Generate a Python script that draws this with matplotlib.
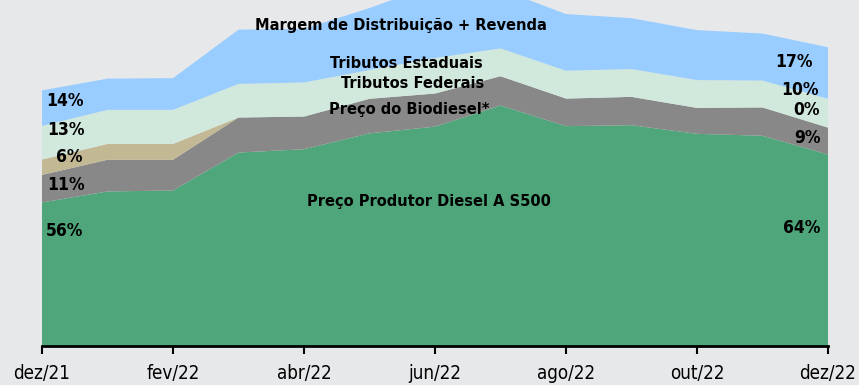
import matplotlib
matplotlib.use('agg')
import matplotlib.pyplot as plt
from matplotlib import font_manager
import numpy as np

# composição do preço do diesel S500 (R$/litro), dez/21 a dez/22
meses = ['dez/21', 'jan/22', 'fev/22', 'mar/22', 'abr/22', 'mai/22', 'jun/22',
         'jul/22', 'ago/22', 'set/22', 'out/22', 'nov/22', 'dez/22']
produtor = [2.99, 3.22, 3.24, 4.03, 4.10, 4.43, 4.57, 5.01, 4.58, 4.60, 4.42, 4.38, 3.99]
biodiesel = [0.575, 0.66, 0.64, 0.73, 0.68, 0.72, 0.69, 0.61, 0.575, 0.59, 0.54, 0.59, 0.56]
federais = [0.32, 0.33, 0.33, 0.0, 0.0, 0.0, 0.0, 0.0, 0.0, 0.0, 0.0, 0.0, 0.0]
estaduais = [0.70, 0.71, 0.71, 0.70, 0.71, 0.60, 0.74, 0.58, 0.58, 0.58, 0.58, 0.56, 0.60]
margem = [0.74, 0.65, 0.66, 1.13, 1.12, 1.29, 1.53, 1.23, 1.18, 1.06, 1.04, 0.98, 1.075]
nomes_series = ['Preço Produtor Diesel A S500', 'Preço do Biodiesel*', 'Tributos Federais',
                'Tributos Estaduais', 'Margem de Distribuição + Revenda']

series = [produtor, biodiesel, federais, estaduais, margem]
cores = ['#4ea67a', '#888888', '#c2b994', '#d1e8dc', '#99ccff']
fundo = '#e7e8ea'


def fonte_estreita(negrito):
    # procura uma família condensada instalada; senão usa Roboto
    peso_ok = (lambda w: w in (600, 700, 800, 'bold', 'semibold')) if negrito else \
              (lambda w: w in (400, 'normal', 'regular'))
    for f in font_manager.fontManager.ttflist:
        estreita = ('Condensed' in f.name or 'Narrow' in f.name or
                    f.stretch in ('condensed', 'semi-condensed', 'extra-condensed'))
        if estreita and f.style == 'normal' and peso_ok(f.weight):
            return font_manager.FontProperties(fname=f.fname)
    return font_manager.FontProperties(family='Roboto',
                                       weight='bold' if negrito else 'normal')


fb = fonte_estreita(True)
fr = fonte_estreita(False)

fig = plt.figure(figsize=(8.59, 3.85), dpi=100, facecolor=fundo)
ax = fig.add_axes([42 / 859, 39 / 385, 786 / 859, 346 / 385])
ax.set_facecolor(fundo)

x = np.arange(len(meses))
ax.stackplot(x, *series, colors=cores, linewidth=0)

ax.set_xlim(0, 12)
ax.set_ylim(0, 346 / 48)
for lado in ['left', 'right', 'top']:
    ax.spines[lado].set_visible(False)
ax.spines['bottom'].set_linewidth(2)
ax.spines['bottom'].set_color('black')
ax.set_yticks([])
ax.set_xticks(x[::2])
ax.set_xticklabels(meses[::2], fontproperties=fr, fontsize=13.5)
ax.tick_params(axis='x', length=6, width=1.5, color='black', pad=7)

# percentuais no primeiro e no último mês
total = np.sum(series, axis=0)
y_esq = [2.40, 3.35, 3.94, 4.50, 5.11]
x_esq = [0.06, 0.08, 0.21, 0.08, 0.07]
y_dir = [2.46, 4.33, 4.92, 5.33, 5.91]
x_dir = [11.88, 11.89, 11.88, 11.86, 11.77]
for k, s in enumerate(series):
    ax.text(x_esq[k], y_esq[k], f'{s[0] / total[0] * 100:.0f}%', ha='left', va='center',
            fontproperties=fb, fontsize=12.5)
    ax.text(x_dir[k], y_dir[k], f'{s[-1] / total[-1] * 100:.0f}%', ha='right', va='center',
            fontproperties=fb, fontsize=12.5)

# nomes das camadas
pos_nomes = [(5.90, 3.02), (5.60, 4.92), (5.66, 5.46), (5.56, 5.875), (5.48, 6.67)]
for nome, (xr, yr) in zip(nomes_series, pos_nomes):
    ax.text(xr, yr, nome, ha='center', va='center', fontproperties=fb, fontsize=11.7)

fig.savefig('out.png', dpi=100, facecolor=fundo)
